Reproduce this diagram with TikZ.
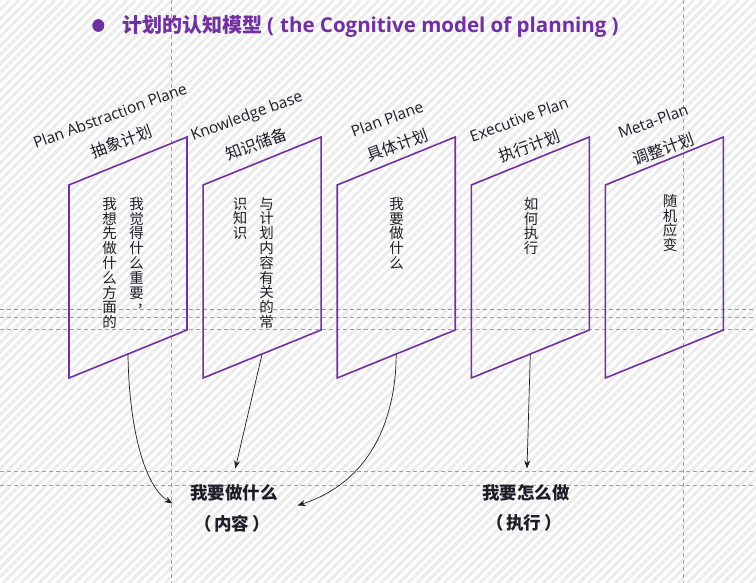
\documentclass[tikz,border=0pt]{standalone}
\usepackage{fontspec}
\setmainfont{Open Sans}
\newfontfamily\cjk{Noto Sans CJK SC}
\usetikzlibrary{arrows.meta}
\definecolor{ppl}{RGB}{112,48,160}
\definecolor{ink}{RGB}{30,30,40}
\definecolor{guide}{RGB}{160,160,160}
\definecolor{guideo}{RGB}{240,120,80}
\definecolor{hatch}{RGB}{236,236,236}
\begin{document}
\begin{tikzpicture}[x=1pt,y=-1pt,
  plane/.style={draw=ppl, line width=1.6pt, line join=miter},
  entxt/.style={text=ink, font=\fontsize{15.5}{17}\selectfont, rotate=20, inner sep=0},
  zhtxt/.style={text=ink, font=\cjk\fontsize{16}{18}\selectfont, rotate=20, inner sep=0},
  vtxt/.style={text=ink, font=\cjk\fontsize{14.5}{14.8}\selectfont, align=center, anchor=north, inner sep=0},
  boldtxt/.style={text=ink, font=\cjk\bfseries\fontsize{17.5}{19}\selectfont, inner sep=0},
  conn/.style={draw=ink, line width=0.7pt, -{Stealth[length=8pt,width=6pt]}},
  guideline/.style={draw=guide, line width=0.6pt, dash pattern=on 4pt off 3pt},
]
% background
\fill[white] (0,0) rectangle (756,583);
\useasboundingbox (0,0) rectangle (756,583);
\begin{scope}
\clip (0,0) rectangle (756,583);
\foreach \k in {-600,-591,...,760} {
  \draw[hatch, line width=3pt] (\k,583) -- (\k+583,0);
}
\end{scope}
% guides
\draw[guideline] (171,0) -- (171,583);
\draw[guideline] (683,0) -- (683,583);
\draw[guideline, draw=guideo] (0,309.5) -- (756,309.5);
\draw[guideline] (0,317.5) -- (756,317.5);
\draw[guideline] (0,329.5) -- (756,329.5);
\draw[guideline] (0,471) -- (756,471);
\draw[guideline] (0,485) -- (756,485);

% title
\fill[ppl] (98.3,25.5) ellipse [x radius=6, y radius=6.4];
\node[anchor=west, inner sep=0, text=ppl] (title) at (122,26.7)
  {{\cjk\bfseries\fontsize{20}{24}\selectfont 计划的认知模型}{\bfseries\fontsize{20.5}{24}\selectfont\hspace{5pt}(\hspace{6pt}the Cognitive model of planning\hspace{5pt})}};

% planes
\foreach \i in {1,...,5} {
  \pgfmathsetmacro{\L}{69+134.1*(\i-1)}
  \draw[plane] (\L,185) -- (\L+118,137) -- (\L+118,330) -- (\L,378) -- cycle;
  \coordinate (b\i) at (\L+59,354);
}

% labels
\node[entxt] (en1) at (110,115.5) {Plan Abstraction Plane};
\node[zhtxt] (zh1) at (121,141.5) {抽象计划};
\node[entxt] (en2) at (247,117) {Knowledge base};
\node[zhtxt] (zh2) at (256,144) {知识储备};
\node[entxt] (en3) at (387,119) {Plan Plane};
\node[zhtxt] (zh3) at (397,145) {具体计划};
\node[entxt] (en4) at (519,119) {Executive Plan};
\node[zhtxt] (zh4) at (529,146) {执行计划};
\node[entxt] (en5) at (653,121) {Meta-Plan};
\node[zhtxt] (zh5) at (663,149) {调整计划};

% vertical texts
\node[vtxt] (v1a) at (136.7,197) {我\\觉\\得\\什\\么\\重\\要};
\node[text=ink, font=\cjk\fontsize{14.5}{14.8}\selectfont, inner sep=0] (v1c) at (144,307) {，};
\node[vtxt] (v1b) at (109.5,197) {我\\想\\先\\做\\什\\么\\方\\面\\的};
\node[vtxt] (v2a) at (266.7,197) {与\\计\\划\\内\\容\\有\\关\\的\\常};
\node[vtxt] (v2b) at (240,197) {识\\知\\识};
\node[vtxt] (v3) at (396.7,197) {我\\要\\做\\什\\么};
\node[vtxt] (v4) at (531,197) {如\\何\\执\\行};
\node[vtxt] (v5) at (670,194) {随\\机\\应\\变};

% bottom texts
\node[boldtxt] (what) at (234,492.7) {我要做什么};
\node[boldtxt] (whatsub) at (232,523.3) {（\,内容\,）};
\node[boldtxt] (how) at (526,492.7) {我要怎么做};
\node[boldtxt] (howsub) at (524,523.3) {（\,执行\,）};

\coordinate (t1) at (172.5,503.5);
\coordinate (t2) at (235.3,468.5);
\coordinate (t3) at (297.5,505.5);
\coordinate (t4) at (527,468.5);

\draw[conn] (b1) .. controls (129,430) and (145,487) .. (t1);
\draw[conn] (b2) -- (t2);
\draw[conn] (b3) .. controls (396,420) and (370,482) .. (t3);
\draw[conn] (b4) -- (t4);
\end{tikzpicture}
\end{document}
